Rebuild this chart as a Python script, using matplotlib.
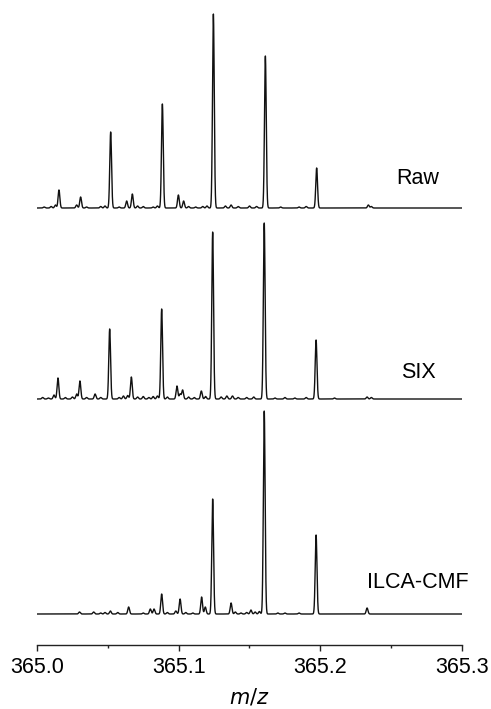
import numpy as np
import matplotlib
matplotlib.use("Agg")
import matplotlib.pyplot as plt

plt.rcParams['font.family'] = ['Liberation Sans', 'DejaVu Sans']

# ---- data (m/z, intensity in arbitrary units) ----
raw_mz = [365.0155, 365.0308, 365.0520, 365.0633, 365.0673, 365.0885, 365.0998, 365.1035,
          365.1245, 365.1612, 365.1974, 365.2339]
raw_int = [18, 11, 76, 7, 14, 104, 13, 7, 194, 152, 40, 3]
raw_noise_mz = [365.005, 365.010, 365.013, 365.028, 365.035, 365.045, 365.048, 365.058,
                365.071, 365.075, 365.082, 365.085, 365.107, 365.112, 365.117, 365.120,
                365.133, 365.137, 365.142, 365.150, 365.155, 365.172, 365.185, 365.190, 365.236]
raw_noise_int = [1, 1.5, 3, 3, 1, 1.5, 2, 1, 2, 1.5, 1, 2, 1.5, 1, 1.5, 2,
                 2, 3, 1.5, 2, 1.5, 1, 1, 1.5, 1.5]

six_mz = [365.0148, 365.0303, 365.0410, 365.0513, 365.0666, 365.0880, 365.0988, 365.1028,
          365.1160, 365.1240, 365.1604, 365.1970, 365.2330]
six_int = [21, 18, 5, 70, 22, 90, 13, 9, 8, 167, 176, 59, 2]
six_noise_mz = [365.004, 365.008, 365.012, 365.020, 365.025, 365.028, 365.035, 365.045,
                365.058, 365.061, 365.064, 365.071, 365.075, 365.079, 365.082, 365.085,
                365.092, 365.101, 365.107, 365.111, 365.119, 365.130, 365.134, 365.138,
                365.142, 365.148, 365.153, 365.168, 365.175, 365.182, 365.190, 365.210, 365.236]
six_noise_int = [1.5, 1, 4, 1.5, 2, 5, 1.5, 1.5, 1.5, 3, 3.5, 2, 2.5, 1.5, 2.5, 3,
                 2, 5, 2, 1.5, 2.5, 2, 3, 3, 1.5, 1.5, 2, 1, 1.5, 1, 1.5, 1, 1.5]

ilca_mz = [365.0300, 365.0400, 365.0518, 365.0647, 365.0800, 365.0826, 365.0880, 365.1010,
           365.1162, 365.1188, 365.1240, 365.1370, 365.1510, 365.1604, 365.1970, 365.2330]
ilca_int = [2, 2, 3, 7, 5, 5, 20, 15, 17, 7, 115, 11, 4, 203, 79, 6]
ilca_noise_mz = [365.045, 365.048, 365.057, 365.075, 365.092, 365.098, 365.105, 365.110,
                 365.140, 365.144, 365.148, 365.154, 365.157, 365.170, 365.175, 365.185]
ilca_noise_int = [1, 1.5, 1.5, 1, 1.5, 3, 1.5, 1, 2, 1, 1.5, 2, 2.5, 1, 1, 1]

labels = ["Raw", "SIX", "ILCA-CMF"]
xticks = [365.0, 365.1, 365.2, 365.3]
xtick_labels = ["365.0", "365.1", "365.2", "365.3"]

# ---- layout ----
offsets = [437, 246, 31]
label_y = [466, 272, 63]
label_x = 365.2689
sigma = 0.00062
x = np.linspace(365.0, 365.3, 9000)

def profile(mz, inten, nmz, nint):
    y = np.zeros_like(x)
    for m, h in zip(list(mz) + list(nmz), list(inten) + list(nint)):
        y += h * np.exp(-0.5 * ((x - m) / sigma) ** 2)
    return y

fig = plt.figure(figsize=(4.91, 7.09), dpi=100)
ax = fig.add_axes([37 / 491, 64 / 709, 425 / 491, 640 / 709])

spectra = [(raw_mz, raw_int, raw_noise_mz, raw_noise_int),
           (six_mz, six_int, six_noise_mz, six_noise_int),
           (ilca_mz, ilca_int, ilca_noise_mz, ilca_noise_int)]
for (mz, inten, nmz, nint), off, lab, ly in zip(spectra, offsets, labels, label_y):
    ax.plot(x, profile(mz, inten, nmz, nint) + off, color='#111111', lw=1.0)
    ax.text(label_x, ly, lab, fontsize=15.5, ha='center', va='center', clip_on=False)

ax.set_xlim(365.0, 365.3)
ax.set_ylim(0, 640)
for s in ['top', 'right', 'left']:
    ax.spines[s].set_visible(False)
ax.spines['bottom'].set_linewidth(1.0)
ax.spines['bottom'].set_color('#222222')
ax.set_yticks([])
ax.set_xticks(xticks)
ax.set_xticklabels(xtick_labels, fontsize=15.5)
ax.set_xticks([365.05, 365.15, 365.25], minor=True)
ax.tick_params(axis='x', which='major', length=4.5, width=1.0, direction='out', pad=4, color='#222222')
ax.tick_params(axis='x', which='minor', length=2.5, width=1.0, direction='out', color='#222222')
ax.set_xlabel(r'$\mathit{m/z}$', fontsize=15, labelpad=6)

fig.savefig("out.png", dpi=100)
